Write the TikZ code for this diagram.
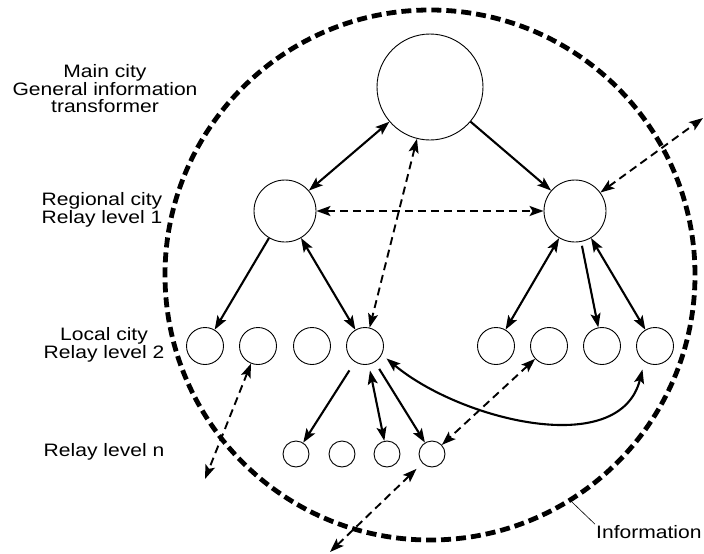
\documentclass[tikz,border=0pt]{standalone}
\usepackage{fontspec}
\setmainfont{Liberation Sans}[FakeStretch=1.17]
\usetikzlibrary{arrows.meta}
\tikzset{
    city/.style={circle, draw, line width=0.9pt, inner sep=0pt},
    lbl/.style={align=center, inner sep=1pt, font=\fontsize{18}{17.5}\selectfont},
    border/.style={circle, draw, line width=4.8pt, minimum size=530pt,
    	dash pattern=on 10pt off 5pt}
}
\tikzset{
    every edge/.append style={line width=2.1pt}
}
\tikzset{
	flow/.style={line width=1.9pt, dash pattern=on 8pt off 5pt}
}

\begin{document}
\begin{tikzpicture}[x=1pt, y=-1pt, >={Stealth[length=14pt, width=10pt, inset=3pt]}]
	\useasboundingbox (0,0) rectangle (704,554);
	\node (info) [border] at (430,275) {};
	\node (m) [city, minimum size=106pt] at (430,87) {};
	\node (r1) [city, minimum size=62pt] at (285,211) {};
	\node (r2) [city, minimum size=62pt] at (575,211) {};
	\node (l1) [city, minimum size=37pt] at (205,346) {};
	\node (l2) [city, minimum size=37pt] at (258,346) {};
	\node (l3) [city, minimum size=37pt] at (312,346) {};
	\node (l4) [city, minimum size=37pt] at (365,346) {};
	\node (l5) [city, minimum size=37pt] at (496,346) {};
	\node (l6) [city, minimum size=37pt] at (549,346) {};
	\node (l7) [city, minimum size=37pt] at (602,346) {};
	\node (l8) [city, minimum size=37pt] at (655,346) {};
	\node (n1) [city, minimum size=26pt] at (296,454) {};
	\node (n2) [city, minimum size=26pt] at (342,454) {};
	\node (n3) [city, minimum size=26pt] at (387,454) {};
	\node (n4) [city, minimum size=26pt] at (432,454) {};
	
	\node (t1) [lbl] at (105,89) {Main city\\General information\\transformer};
	\node (t2) [lbl] at (102,210) {Regional city\\Relay level 1};
	\node (t3) [lbl] at (104,345) {Local city\\Relay level 2};
	\node (t4) [lbl] at (104,452) {Relay level n};
	\node (t5) [lbl, anchor=west] at (595,532) {Information};
	
	\coordinate (o1) at (703,118);
	\coordinate (o2) at (330,552);
	\coordinate (o3) at (205,479);
	
	\draw (m) edge [<->] (r1); \draw (m) edge [->] (r2);
	\draw (r1) edge [<->, flow] (r2); \draw (m) edge [<->, flow] (l4);
	\draw (r2) edge [<->, flow] (o1);
	
	\draw (r1) edge [->] (l1); \draw (r1) edge [<->] (l4);
	\draw (r2) edge [<->] (l5); \draw (r2) edge [->, shorten <=4pt] (l7);
	\draw (r2) edge [<->] (l8);
	
	\draw (l4) edge [->, shorten <=10pt] (n1); \draw (l4) edge [<->, shorten <=6pt] (n3);
	\draw (l4) edge [->, shorten <=8pt] (n4);
	\draw [<->, line width=2.1pt, shorten <=6pt, shorten >=8pt]
		(l4.-27) .. controls (460,420) and (620,460) .. (l8.-124);
	
	\draw (l6) edge [<->, flow] (n4); \draw (n4) edge [<->, flow, shorten <=8pt] (o2);
	\draw (l2) edge [<->, flow] (o3);
	\draw [line width=0.6pt] (info.-58) -- (t5.north west);
\end{tikzpicture}
\end{document}
